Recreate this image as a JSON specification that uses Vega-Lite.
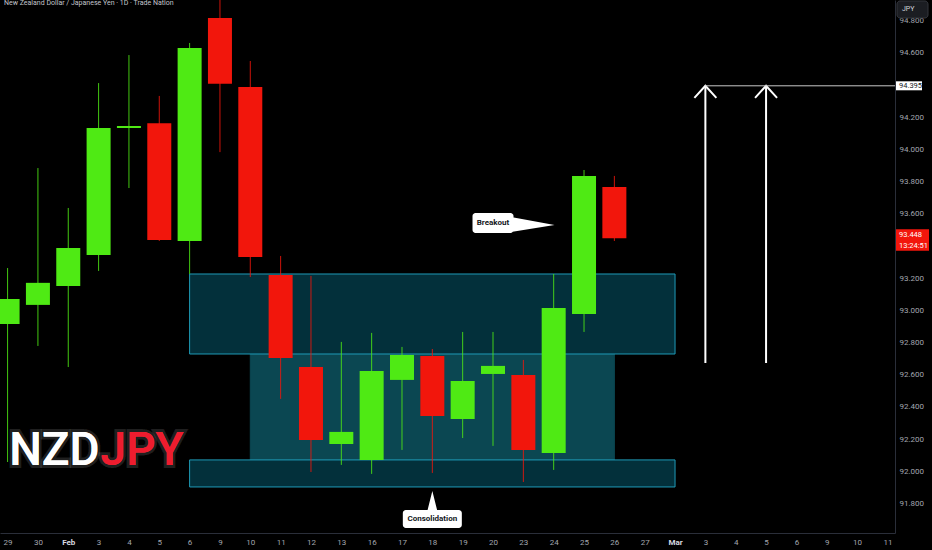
{
  "$schema": "https://vega.github.io/schema/vega-lite/v6.json",
  "width": 895,
  "height": 533,
  "autosize": {"type": "none"},
  "padding": {"left": 0, "top": 0, "right": 37, "bottom": 17},
  "background": "#000000",
  "config": {"view": {"stroke": null}, "font": "Roboto"},
  "title": {
    "text": "New Zealand Dollar / Japanese Yen · 1D · Trade Nation",
    "anchor": "start", "frame": "group", "orient": "top", "offset": 0,
    "dx": 4, "dy": 13, "fontSize": 7, "fontWeight": "normal", "color": "#c3c6cc", "baseline": "alphabetic"
  },
  "resolve": {"axis": {"y": "independent"}},
  "datasets": {
    "candles": [
      {"d": "2026-01-29", "o": 92.916, "h": 93.263, "l": 92.058, "c": 93.071},
      {"d": "2026-01-30", "o": 93.034, "h": 93.884, "l": 92.779, "c": 93.171},
      {"d": "2026-02-02", "o": 93.152, "h": 93.636, "l": 92.648, "c": 93.388},
      {"d": "2026-02-03", "o": 93.344, "h": 94.412, "l": 93.245, "c": 94.133},
      {"d": "2026-02-04", "o": 94.133, "h": 94.586, "l": 93.760, "c": 94.145},
      {"d": "2026-02-05", "o": 94.163, "h": 94.332, "l": 93.431, "c": 93.437},
      {"d": "2026-02-06", "o": 93.431, "h": 94.661, "l": 93.226, "c": 94.630},
      {"d": "2026-02-09", "o": 94.816, "h": 94.950, "l": 93.983, "c": 94.407},
      {"d": "2026-02-10", "o": 94.387, "h": 94.549, "l": 93.207, "c": 93.332},
      {"d": "2026-02-11", "o": 93.220, "h": 93.338, "l": 92.450, "c": 92.704},
      {"d": "2026-02-12", "o": 92.648, "h": 93.214, "l": 91.996, "c": 92.195},
      {"d": "2026-02-13", "o": 92.170, "h": 92.804, "l": 92.040, "c": 92.245},
      {"d": "2026-02-16", "o": 92.071, "h": 92.860, "l": 91.984, "c": 92.624},
      {"d": "2026-02-17", "o": 92.568, "h": 92.773, "l": 92.133, "c": 92.723},
      {"d": "2026-02-18", "o": 92.717, "h": 92.760, "l": 91.990, "c": 92.344},
      {"d": "2026-02-19", "o": 92.325, "h": 92.866, "l": 92.207, "c": 92.561},
      {"d": "2026-02-20", "o": 92.605, "h": 92.866, "l": 92.158, "c": 92.655},
      {"d": "2026-02-23", "o": 92.599, "h": 92.692, "l": 91.934, "c": 92.133},
      {"d": "2026-02-24", "o": 92.114, "h": 93.226, "l": 92.009, "c": 93.015},
      {"d": "2026-02-25", "o": 92.978, "h": 93.872, "l": 92.866, "c": 93.835},
      {"d": "2026-02-26", "o": 93.767, "h": 93.835, "l": 93.431, "c": 93.448}
    ],
    "zones": [
      {"kind": "core", "d": "2026-02-10", "d2": "2026-02-26", "top": 92.729, "bot": 92.071},
      {"kind": "edge", "d": "2026-02-06", "d2": "2026-03-02", "top": 93.226, "bot": 92.729},
      {"kind": "edge", "d": "2026-02-06", "d2": "2026-03-02", "top": 92.071, "bot": 91.903}
    ],
    "arrows": [
      {"d": "2026-03-03", "base": 92.673, "tip": 94.395},
      {"d": "2026-03-05", "base": 92.673, "tip": 94.395}
    ],
    "level": [{"d": "2026-03-03", "p": 94.395}],
    "last": [{"p": 93.448, "t": "13:24:51"}],
    "unit": [{"p": 94.869, "t": "JPY"}],
    "breakout": [{"d": "2026-02-20", "p": 93.543, "t": "Breakout"}],
    "consol": [{"d": "2026-02-18", "p": 91.704, "t": "Consolidation"}],
    "logo": [{"d": "2026-02-03", "p": 92.04, "a": "NZD", "b": "JPY"}]
  },
  "encoding": {
    "x": {
      "field": "d", "type": "ordinal",
      "scale": {"type": "point", "padding": 0.25, "domain": ["2026-01-29","2026-01-30","2026-02-02","2026-02-03","2026-02-04","2026-02-05","2026-02-06","2026-02-09","2026-02-10","2026-02-11","2026-02-12","2026-02-13","2026-02-16","2026-02-17","2026-02-18","2026-02-19","2026-02-20","2026-02-23","2026-02-24","2026-02-25","2026-02-26","2026-02-27","2026-03-02","2026-03-03","2026-03-04","2026-03-05","2026-03-06","2026-03-09","2026-03-10","2026-03-11"]},
      "axis": {
        "title": null, "labelAngle": 0, "labelFontSize": 8, "ticks": false, "grid": false,
        "domainColor": "#2a2e39", "labelPadding": 5, "labelOverlap": false, "labelBound": false,
        "labelExpr": "datum.value == '2026-02-02' ? 'Feb' : datum.value == '2026-03-02' ? 'Mar' : '' + toNumber(substring(datum.value, 8, 10))",
        "labelColor": {"condition": {"test": "datum.value == '2026-02-02' || datum.value == '2026-03-02'", "value": "#d8dae0"}, "value": "#a3a6af"},
        "labelFontWeight": {"condition": {"test": "datum.value == '2026-02-02' || datum.value == '2026-03-02'", "value": "bold"}, "value": "normal"}
      }
    }
  },
  "layer": [
    {
      "data": {"name": "zones"},
      "mark": {"type": "rect", "strokeWidth": 1},
      "encoding": {
        "x2": {"field": "d2"},
        "y": {"field": "top", "type": "quantitative", "scale": {"domain": [91.617, 94.928], "nice": false, "zero": false},
          "axis": {"orient": "right", "title": null, "values": [91.8, 92, 92.2, 92.4, 92.6, 92.8, 93, 93.2, 93.6, 93.8, 94, 94.2, 94.6, 94.8],
            "format": ".3f", "labelFontSize": 8, "labelColor": "#a3a6af", "ticks": false, "grid": false,
            "domainColor": "#2a2e39", "labelPadding": 4, "labelBound": false}},
        "y2": {"field": "bot"},
        "fill": {"field": "kind", "type": "nominal", "scale": {"domain": ["edge", "core"], "range": ["#03303b", "#0b4752"]}, "legend": null},
        "stroke": {"field": "kind", "type": "nominal", "scale": {"domain": ["edge", "core"], "range": ["#1f9bb8", "#0b4752"]}, "legend": null}
      }
    },
    {
      "data": {"name": "candles"},
      "mark": {"type": "rule", "strokeWidth": 1, "clip": true, "opacity": 0.85},
      "encoding": {
        "y": {"field": "l", "type": "quantitative", "scale": {"domain": [91.617, 94.928], "nice": false, "zero": false}, "axis": null},
        "y2": {"field": "h"},
        "color": {"condition": {"test": "datum.c >= datum.o", "value": "#4fea14"}, "value": "#f2160c"}
      }
    },
    {
      "data": {"name": "candles"},
      "mark": {"type": "bar", "size": 24, "clip": true},
      "encoding": {
        "y": {"field": "o", "type": "quantitative", "scale": {"domain": [91.617, 94.928], "nice": false, "zero": false}, "axis": null},
        "y2": {"field": "c"},
        "color": {"condition": {"test": "datum.c >= datum.o", "value": "#4fea14"}, "value": "#f2160c"}
      }
    },
    {
      "data": {"name": "arrows"},
      "mark": {"type": "rule", "color": "#ffffff", "strokeWidth": 2},
      "encoding": {
        "y": {"field": "base", "type": "quantitative", "scale": {"domain": [91.617, 94.928], "nice": false, "zero": false}, "axis": null},
        "y2": {"field": "tip"}
      }
    },
    {
      "data": {"name": "arrows"},
      "mark": {"type": "point", "shape": "M-11,12L0,0L11,12", "size": 4, "filled": false, "color": "#ffffff", "strokeWidth": 2, "opacity": 1},
      "encoding": {
        "y": {"field": "tip", "type": "quantitative", "scale": {"domain": [91.617, 94.928], "nice": false, "zero": false}, "axis": null}
      }
    },
    {
      "data": {"name": "level"},
      "mark": {"type": "rule", "color": "#c8c8c8", "strokeWidth": 1},
      "encoding": {
        "y": {"field": "p", "type": "quantitative", "scale": {"domain": [91.617, 94.928], "nice": false, "zero": false}, "axis": null},
        "x2": {"value": "width"}
      }
    },
    {
      "data": {"name": "level"},
      "mark": {"type": "point", "shape": "M1,-4.5H27V4.5H1Z", "size": 4, "filled": true, "color": "#ffffff", "opacity": 1},
      "encoding": {
        "x": {"value": "width"},
        "y": {"field": "p", "type": "quantitative", "scale": {"domain": [91.617, 94.928], "nice": false, "zero": false}, "axis": null}
      }
    },
    {
      "data": {"name": "level"},
      "mark": {"type": "text", "align": "left", "baseline": "middle", "dx": 4, "fontSize": 7.5, "color": "#131722"},
      "encoding": {
        "x": {"value": "width"},
        "y": {"field": "p", "type": "quantitative", "scale": {"domain": [91.617, 94.928], "nice": false, "zero": false}, "axis": null},
        "text": {"field": "p", "type": "quantitative", "format": ".3f"}
      }
    },
    {
      "data": {"name": "last"},
      "mark": {"type": "point", "shape": "M1,-9H34V12.5H1Z", "size": 4, "filled": true, "color": "#f2160c", "opacity": 1},
      "encoding": {
        "x": {"value": "width"},
        "y": {"field": "p", "type": "quantitative", "scale": {"domain": [91.617, 94.928], "nice": false, "zero": false}, "axis": null}
      }
    },
    {
      "data": {"name": "last"},
      "mark": {"type": "text", "align": "left", "baseline": "middle", "dx": 4, "dy": -3.5, "fontSize": 7.5, "color": "#ffffff"},
      "encoding": {
        "x": {"value": "width"},
        "y": {"field": "p", "type": "quantitative", "scale": {"domain": [91.617, 94.928], "nice": false, "zero": false}, "axis": null},
        "text": {"field": "p", "type": "quantitative", "format": ".3f"}
      }
    },
    {
      "data": {"name": "last"},
      "mark": {"type": "text", "align": "left", "baseline": "middle", "dx": 4, "dy": 7.5, "fontSize": 7.5, "color": "#ffffff"},
      "encoding": {
        "x": {"value": "width"},
        "y": {"field": "p", "type": "quantitative", "scale": {"domain": [91.617, 94.928], "nice": false, "zero": false}, "axis": null},
        "text": {"field": "t"}
      }
    },
    {
      "data": {"name": "unit"},
      "mark": {"type": "point", "shape": "M5,-8.5H30A3,3 0 0 1 33,-5.5V5.5A3,3 0 0 1 30,8.5H5A3,3 0 0 1 2,5.5V-5.5A3,3 0 0 1 5,-8.5Z", "size": 4, "filled": true, "fill": "#1b1d22", "stroke": "#34373d", "strokeWidth": 1, "opacity": 1},
      "encoding": {
        "x": {"value": "width"},
        "y": {"field": "p", "type": "quantitative", "scale": {"domain": [91.617, 94.928], "nice": false, "zero": false}, "axis": null}
      }
    },
    {
      "data": {"name": "unit"},
      "mark": {"type": "text", "align": "left", "baseline": "middle", "dx": 7, "fontSize": 7, "color": "#d1d4dc"},
      "encoding": {
        "x": {"value": "width"},
        "y": {"field": "p", "type": "quantitative", "scale": {"domain": [91.617, 94.928], "nice": false, "zero": false}, "axis": null},
        "text": {"field": "t"}
      }
    },
    {
      "data": {"name": "breakout"},
      "mark": {"type": "point", "shape": "M-17.5,-10H17.5A3,3 0 0 1 20.5,-7V7A3,3 0 0 1 17.5,10H-17.5A3,3 0 0 1 -20.5,7V-7A3,3 0 0 1 -17.5,-10Z M18,-6L61.5,2L18,9Z", "size": 4, "filled": true, "color": "#ffffff", "opacity": 1},
      "encoding": {
        "y": {"field": "p", "type": "quantitative", "scale": {"domain": [91.617, 94.928], "nice": false, "zero": false}, "axis": null}
      }
    },
    {
      "data": {"name": "breakout"},
      "mark": {"type": "text", "align": "center", "baseline": "middle", "fontSize": 8, "fontWeight": "bold", "color": "#131722"},
      "encoding": {
        "y": {"field": "p", "type": "quantitative", "scale": {"domain": [91.617, 94.928], "nice": false, "zero": false}, "axis": null},
        "text": {"field": "t"}
      }
    },
    {
      "data": {"name": "consol"},
      "mark": {"type": "point", "shape": "M-26.5,-9H26.5A3,3 0 0 1 29.5,-6V6A3,3 0 0 1 26.5,9H-26.5A3,3 0 0 1 -29.5,6V-6A3,3 0 0 1 -26.5,-9Z M-5,-8L0,-28L5,-8Z", "size": 4, "filled": true, "color": "#ffffff", "opacity": 1},
      "encoding": {
        "y": {"field": "p", "type": "quantitative", "scale": {"domain": [91.617, 94.928], "nice": false, "zero": false}, "axis": null}
      }
    },
    {
      "data": {"name": "consol"},
      "mark": {"type": "text", "align": "center", "baseline": "middle", "fontSize": 8, "fontWeight": "bold", "color": "#131722"},
      "encoding": {
        "y": {"field": "p", "type": "quantitative", "scale": {"domain": [91.617, 94.928], "nice": false, "zero": false}, "axis": null},
        "text": {"field": "t"}
      }
    },
    {
      "data": {"name": "logo"},
      "mark": {"type": "text", "align": "right", "baseline": "alphabetic", "dx": 1, "fontSize": 46, "fontWeight": 500, "font": "Roboto", "color": "#ffffff", "stroke": "#ffffff", "strokeWidth": 6, "strokeOpacity": 0.12, "opacity": 1},
      "encoding": {
        "y": {"field": "p", "type": "quantitative", "scale": {"domain": [91.617, 94.928], "nice": false, "zero": false}, "axis": null},
        "text": {"field": "a"}
      }
    },
    {
      "data": {"name": "logo"},
      "mark": {"type": "text", "align": "left", "baseline": "alphabetic", "dx": 2, "fontSize": 46, "fontWeight": 500, "font": "Roboto", "color": "#ee1c2e", "stroke": "#ffffff", "strokeWidth": 6, "strokeOpacity": 0.12, "opacity": 1},
      "encoding": {
        "y": {"field": "p", "type": "quantitative", "scale": {"domain": [91.617, 94.928], "nice": false, "zero": false}, "axis": null},
        "text": {"field": "b"}
      }
    },
    {
      "data": {"name": "logo"},
      "mark": {"type": "text", "align": "right", "baseline": "alphabetic", "dx": 1, "fontSize": 46, "fontWeight": 500, "font": "Roboto", "color": "#ffffff"},
      "encoding": {
        "y": {"field": "p", "type": "quantitative", "scale": {"domain": [91.617, 94.928], "nice": false, "zero": false}, "axis": null},
        "text": {"field": "a"}
      }
    },
    {
      "data": {"name": "logo"},
      "mark": {"type": "text", "align": "left", "baseline": "alphabetic", "dx": 2, "fontSize": 46, "fontWeight": 500, "font": "Roboto", "color": "#ee1c2e"},
      "encoding": {
        "y": {"field": "p", "type": "quantitative", "scale": {"domain": [91.617, 94.928], "nice": false, "zero": false}, "axis": null},
        "text": {"field": "b"}
      }
    }
  ]
}
